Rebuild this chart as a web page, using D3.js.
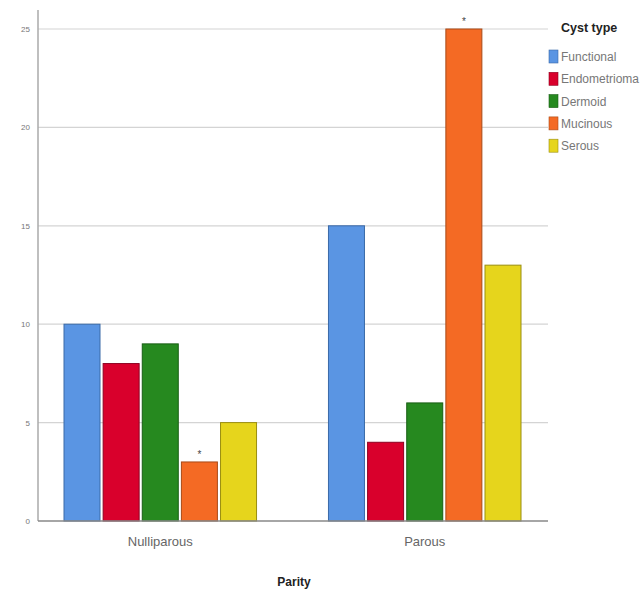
<!DOCTYPE html>
<html><head><meta charset="utf-8">
<script src="https://cdn.jsdelivr.net/npm/d3@7"></script>
<style>body{margin:0;background:#fff}svg{display:block}</style>
</head><body>
<svg id="c" width="644" height="594"></svg>
<script>
const groups = ["Nulliparous", "Parous"];
const cystTypes = ["Functional", "Endometrioma", "Dermoid", "Mucinous", "Serous"];
const nulliparous = [10, 8, 9, 3, 5];
const parous = [15, 4, 6, 25, 13];
const yTicks = [0, 5, 10, 15, 20, 25];
const colors = ["#5a95e3", "#d9002c", "#26891f", "#f46a24", "#e6d51c"];
const strokes = ["#3a6aa8", "#8e0020", "#185e14", "#a84a18", "#9a8e10"];
const starred = [["Nulliparous", "Mucinous"], ["Parous", "Mucinous"]];

(function () {
const values = {Nulliparous: nulliparous, Parous: parous};
const svg = d3.select("#c");
const mLeft = 38, mRight = 548, mTop = 10, mBottom = 521;
const font = "Liberation Sans, Arial, sans-serif";

const y = d3.scaleLinear().domain([0, 25]).range([mBottom, 29]);
const x0 = d3.scaleBand().domain(groups).range([64, 521]).paddingInner(0.272).paddingOuter(0);
const x1 = d3.scaleBand().domain(cystTypes).range([0, x0.bandwidth()]).paddingInner(0.08);

svg.append("g").selectAll("line").data(yTicks.filter(d => d > 0)).join("line")
  .attr("x1", mLeft).attr("x2", mRight).attr("y1", d => y(d)).attr("y2", d => y(d))
  .attr("stroke", "#d4d4d4").attr("stroke-width", 1.2);

const ya = svg.append("g").attr("transform", `translate(${mLeft},0)`)
  .call(d3.axisLeft(y).tickValues(yTicks).tickSize(0).tickPadding(8));
ya.select(".domain").remove();
ya.selectAll("text").attr("font-family", font).attr("font-size", 8).attr("fill", "#777");
svg.append("line").attr("x1", mLeft).attr("x2", mLeft).attr("y1", mTop).attr("y2", mBottom)
  .attr("stroke", "#aaa").attr("stroke-width", 1.5);

groups.forEach(g => {
  svg.append("g").selectAll("rect").data(cystTypes).join("rect")
    .attr("x", t => x0(g) + x1(t))
    .attr("width", x1.bandwidth())
    .attr("y", (t, i) => y(values[g][i]))
    .attr("height", (t, i) => y(0) - y(values[g][i]))
    .attr("fill", (t, i) => colors[i])
    .attr("stroke", (t, i) => strokes[i]).attr("stroke-width", 1);
});

starred.forEach(([g, t]) => {
  const i = cystTypes.indexOf(t);
  svg.append("text").attr("x", x0(g) + x1(t) + x1.bandwidth() / 2).attr("y", y(values[g][i]) - 4)
    .attr("text-anchor", "middle").attr("font-family", font)
    .attr("font-size", 10).attr("fill", "#444").text("*");
});

svg.append("line").attr("x1", mLeft).attr("x2", mRight).attr("y1", mBottom).attr("y2", mBottom)
  .attr("stroke", "#888").attr("stroke-width", 1.5);
const xa = svg.append("g").attr("transform", `translate(0,${mBottom})`)
  .call(d3.axisBottom(x0).tickSize(0).tickPadding(16));
xa.select(".domain").remove();
xa.selectAll("text").attr("font-family", font).attr("font-size", 13).attr("fill", "#666");

svg.append("text").attr("x", 294).attr("y", 586).attr("text-anchor", "middle")
  .attr("font-family", font).attr("font-weight", "bold")
  .attr("font-size", 12).attr("fill", "#222").text("Parity");

const lg = svg.append("g");
lg.append("text").attr("x", 561).attr("y", 32).attr("font-family", font)
  .attr("font-weight", "bold").attr("font-size", 12.5).attr("fill", "#222").text("Cyst type");
const items = lg.selectAll("g.item").data(cystTypes).join("g").attr("class", "item")
  .attr("transform", (d, i) => `translate(549,${50 + i * 22.3})`);
items.append("rect").attr("width", 9).attr("height", 13).attr("fill", (d, i) => colors[i])
  .attr("stroke", (d, i) => strokes[i]).attr("stroke-width", 0.6);
items.append("text").attr("x", 12).attr("y", 11).attr("font-family", font)
  .attr("font-size", 12).attr("fill", "#777").text(d => d);
})();
</script>
</body></html>
